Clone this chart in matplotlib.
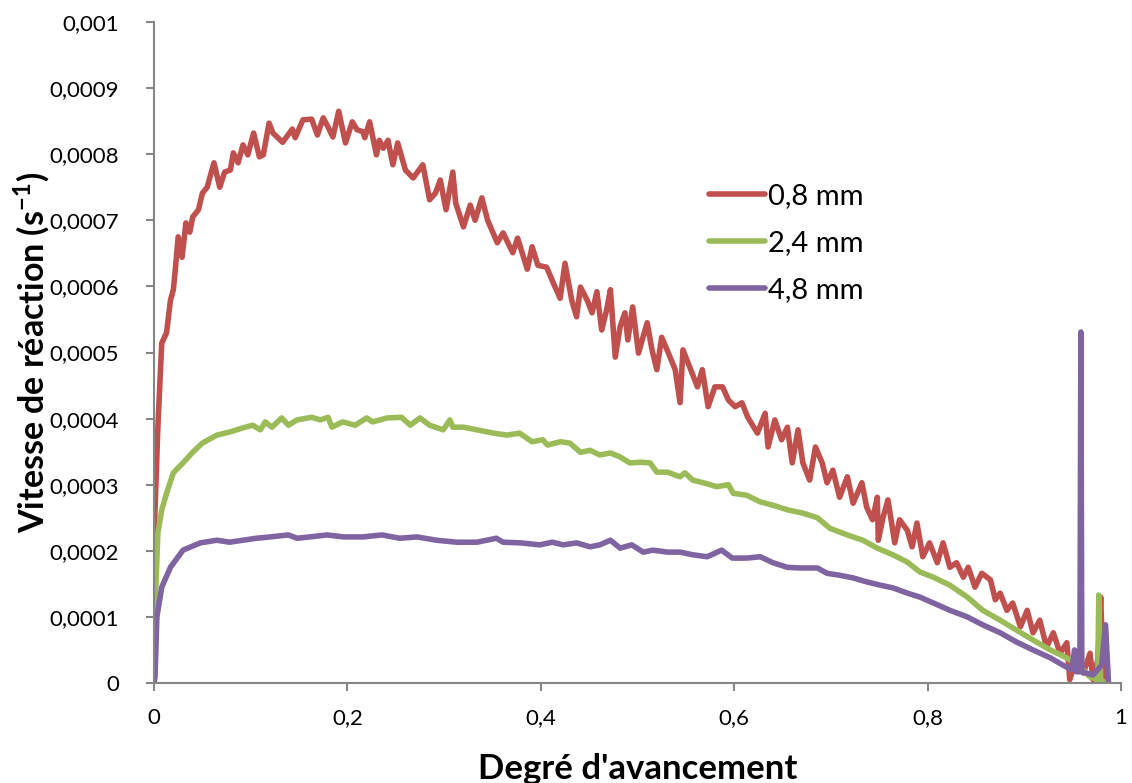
import numpy as np
import matplotlib
matplotlib.use("Agg")
import matplotlib.pyplot as plt

# data (y values in units of 1e-4 s^-1)
x_red = [0, 0.004, 0.008, 0.013, 0.017, 0.020, 0.022, 0.025, 0.029, 0.033,
         0.037, 0.040, 0.046, 0.050, 0.055, 0.062, 0.068, 0.073, 0.079, 0.082,
         0.087, 0.092, 0.097, 0.103, 0.109, 0.113, 0.119, 0.123, 0.133, 0.143,
         0.146, 0.154, 0.163, 0.169, 0.175, 0.180, 0.185, 0.191, 0.198, 0.205,
         0.210, 0.216, 0.218, 0.223, 0.230, 0.233, 0.237, 0.242, 0.247, 0.252,
         0.260, 0.268, 0.278, 0.285, 0.291, 0.296, 0.302, 0.309, 0.312, 0.320,
         0.327, 0.332, 0.339, 0.345, 0.355, 0.361, 0.371, 0.376, 0.386, 0.391,
         0.397, 0.406, 0.413, 0.420, 0.425, 0.432, 0.437, 0.441, 0.448, 0.453,
         0.458, 0.463, 0.468, 0.472, 0.477, 0.482, 0.487, 0.490, 0.495, 0.501,
         0.510, 0.515, 0.520, 0.525, 0.532, 0.539, 0.544, 0.547, 0.554, 0.562,
         0.567, 0.573, 0.580, 0.588, 0.594, 0.601, 0.608, 0.614, 0.624, 0.632,
         0.635, 0.642, 0.649, 0.655, 0.660, 0.666, 0.671, 0.678, 0.684, 0.691,
         0.696, 0.702, 0.709, 0.717, 0.723, 0.732, 0.737, 0.743, 0.748, 0.749,
         0.754, 0.759, 0.766, 0.771, 0.779, 0.784, 0.789, 0.795, 0.802, 0.810,
         0.816, 0.823, 0.830, 0.837, 0.842, 0.849, 0.856, 0.865, 0.870, 0.875,
         0.882, 0.888, 0.896, 0.903, 0.909, 0.916, 0.923, 0.930, 0.937, 0.944,
         0.947, 0.954, 0.961, 0.968, 0.971, 0.976, 0.979, 0.982]
y_red = [2.16, 3.87, 5.14, 5.30, 5.79, 5.95, 6.25, 6.75, 6.44, 6.96,
         6.82, 7.05, 7.16, 7.41, 7.50, 7.87, 7.50, 7.73, 7.76, 8.02,
         7.87, 8.14, 7.99, 8.32, 7.96, 7.99, 8.47, 8.32, 8.18, 8.38,
         8.25, 8.52, 8.53, 8.29, 8.55, 8.41, 8.26, 8.65, 8.17, 8.49,
         8.37, 8.34, 8.25, 8.49, 7.99, 8.21, 8.09, 8.21, 7.84, 8.17,
         7.76, 7.64, 7.84, 7.31, 7.41, 7.61, 7.16, 7.73, 7.26, 6.90,
         7.23, 7.00, 7.34, 7.00, 6.66, 6.81, 6.51, 6.73, 6.26, 6.60,
         6.32, 6.29, 6.05, 5.82, 6.35, 5.79, 5.54, 5.99, 5.79, 5.60,
         5.92, 5.34, 5.64, 5.95, 4.93, 5.39, 5.60, 5.19, 5.69, 4.99,
         5.45, 5.04, 4.74, 5.23, 4.99, 4.74, 4.24, 5.04, 4.78, 4.48,
         4.74, 4.18, 4.48, 4.48, 4.28, 4.18, 4.24, 4.02, 3.78, 4.08,
         3.57, 3.98, 3.68, 3.87, 3.33, 3.83, 3.33, 3.07, 3.57, 3.33,
         3.03, 3.22, 2.81, 3.12, 2.72, 3.03, 2.66, 2.47, 2.81, 2.16,
         2.51, 2.77, 2.12, 2.47, 2.31, 2.06, 2.42, 1.91, 2.12, 1.82,
         2.12, 1.75, 1.82, 1.60, 1.75, 1.45, 1.66, 1.56, 1.26, 1.36,
         1.10, 1.21, 0.85, 1.10, 0.76, 0.95, 0.54, 0.76, 0.45, 0.61,
         0.05, 0.39, 0.15, 0.45, 0.05, 0.35, 1.30, 0.02]

x_green = [0.001, 0.004, 0.008, 0.013, 0.020, 0.030, 0.040, 0.050, 0.065, 0.079,
           0.092, 0.102, 0.110, 0.115, 0.122, 0.132, 0.139, 0.148, 0.163, 0.172,
           0.180, 0.184, 0.195, 0.208, 0.220, 0.226, 0.241, 0.256, 0.265, 0.275,
           0.285, 0.299, 0.306, 0.309, 0.320, 0.334, 0.351, 0.365, 0.378, 0.391,
           0.402, 0.407, 0.420, 0.430, 0.441, 0.451, 0.461, 0.472, 0.482, 0.492,
           0.503, 0.513, 0.520, 0.531, 0.544, 0.549, 0.557, 0.568, 0.582, 0.594,
           0.599, 0.613, 0.627, 0.640, 0.655, 0.671, 0.686, 0.699, 0.717, 0.733,
           0.748, 0.764, 0.779, 0.792, 0.806, 0.823, 0.841, 0.857, 0.875, 0.892,
           0.909, 0.927, 0.944, 0.958, 0.968, 0.976, 0.977, 0.979, 0.982]
y_green = [1.10, 2.27, 2.62, 2.87, 3.18, 3.33, 3.49, 3.63, 3.75, 3.80,
           3.86, 3.90, 3.83, 3.95, 3.87, 4.01, 3.90, 3.98, 4.02, 3.98,
           4.02, 3.87, 3.95, 3.90, 4.01, 3.95, 4.01, 4.02, 3.90, 4.01,
           3.90, 3.83, 3.98, 3.87, 3.87, 3.83, 3.78, 3.75, 3.78, 3.65,
           3.68, 3.60, 3.65, 3.63, 3.49, 3.52, 3.45, 3.48, 3.42, 3.33,
           3.34, 3.33, 3.19, 3.19, 3.12, 3.18, 3.07, 3.03, 2.97, 3.00,
           2.87, 2.84, 2.74, 2.69, 2.62, 2.57, 2.50, 2.34, 2.24, 2.16,
           2.04, 1.94, 1.83, 1.68, 1.60, 1.48, 1.30, 1.10, 0.95, 0.80,
           0.65, 0.50, 0.38, 0.24, 0.09, 0.05, 1.33, 0.05, 0.02]

x_purple = [0, 0.001, 0.003, 0.008, 0.017, 0.030, 0.048, 0.065, 0.078, 0.092,
            0.106, 0.120, 0.139, 0.148, 0.161, 0.179, 0.196, 0.216, 0.236, 0.254,
            0.272, 0.292, 0.313, 0.334, 0.354, 0.361, 0.379, 0.399, 0.412, 0.423,
            0.437, 0.451, 0.461, 0.472, 0.482, 0.494, 0.506, 0.516, 0.531, 0.544,
            0.557, 0.572, 0.587, 0.598, 0.613, 0.627, 0.640, 0.655, 0.668, 0.686,
            0.696, 0.709, 0.723, 0.737, 0.751, 0.764, 0.779, 0.792, 0.806, 0.823,
            0.841, 0.857, 0.875, 0.892, 0.909, 0.927, 0.940, 0.949, 0.952, 0.954,
            0.9575, 0.9585, 0.9595, 0.971, 0.980, 0.984, 0.987]
y_purple = [0.0, 0.09, 1.00, 1.45, 1.75, 2.01, 2.12, 2.16, 2.13, 2.16,
            2.19, 2.21, 2.24, 2.19, 2.21, 2.24, 2.21, 2.21, 2.24, 2.19,
            2.21, 2.16, 2.13, 2.13, 2.19, 2.13, 2.12, 2.09, 2.13, 2.09,
            2.12, 2.06, 2.09, 2.16, 2.04, 2.09, 1.98, 2.01, 1.98, 1.98,
            1.94, 1.91, 2.01, 1.89, 1.89, 1.91, 1.82, 1.75, 1.74, 1.74,
            1.66, 1.63, 1.59, 1.53, 1.48, 1.44, 1.36, 1.30, 1.21, 1.10,
            1.00, 0.88, 0.76, 0.62, 0.50, 0.38, 0.27, 0.20, 0.50, 0.17,
            0.17, 5.31, 0.17, 0.12, 0.27, 0.88, 0.02]

labels = ["0,8 mm", "2,4 mm", "4,8 mm"]
colors = ["#C0504D", "#9BBB59", "#8064A2"]

x_ticks = [0, 0.2, 0.4, 0.6, 0.8, 1]
x_ticklabels = ["0", "0,2", "0,4", "0,6", "0,8", "1"]
y_ticks = [0, 0.0001, 0.0002, 0.0003, 0.0004, 0.0005, 0.0006, 0.0007, 0.0008, 0.0009, 0.001]
y_ticklabels = ["0", "0,0001", "0,0002", "0,0003", "0,0004", "0,0005",
                "0,0006", "0,0007", "0,0008", "0,0009", "0,001"]

plt.rcParams['font.family'] = ['Lato', 'DejaVu Sans']
plt.rcParams['mathtext.fontset'] = 'custom'
plt.rcParams['mathtext.rm'] = 'Lato'
plt.rcParams['mathtext.bf'] = 'Lato:bold'

fig = plt.figure(figsize=(11.32, 7.83), dpi=100)
ax = fig.add_axes([154 / 1132, 100 / 783, 967 / 1132, 661 / 783])

series = [(x_red, y_red), (x_green, y_green), (x_purple, y_purple)]
for (xs, ys), lab, c in zip(series, labels, colors):
    ax.plot(xs, np.array(ys) * 1e-4, color=c, lw=4.0, label=lab,
            solid_joinstyle='round', solid_capstyle='round')

ax.set_xlim(0, 1)
ax.set_ylim(0, 0.001)
ax.set_xticks(x_ticks)
ax.set_xticklabels(x_ticklabels)
ax.set_yticks(y_ticks)
ax.set_yticklabels(y_ticklabels)

for s in ['top', 'right']:
    ax.spines[s].set_visible(False)
for s in ['left', 'bottom']:
    ax.spines[s].set_color('#868686')
    ax.spines[s].set_linewidth(1.5)
ax.tick_params(direction='out', length=6, width=1.5, color='#868686',
               labelsize=16)
ax.tick_params(axis='y', pad=19)
ax.tick_params(axis='x', pad=12)

ax.set_xlabel("Degré d'avancement", fontsize=25, fontweight='bold', labelpad=18)
ax.set_ylabel(r"Vitesse de réaction (s$^{\mathbf{-1}}$)", fontsize=24.5,
              fontweight='bold', labelpad=-1.5)

ax.legend(loc='upper left', bbox_to_anchor=(0.547, 0.796), frameon=False,
          fontsize=21, handlelength=1.9, handletextpad=0.1, labelspacing=0.72)

fig.savefig("out.png", dpi=100)
